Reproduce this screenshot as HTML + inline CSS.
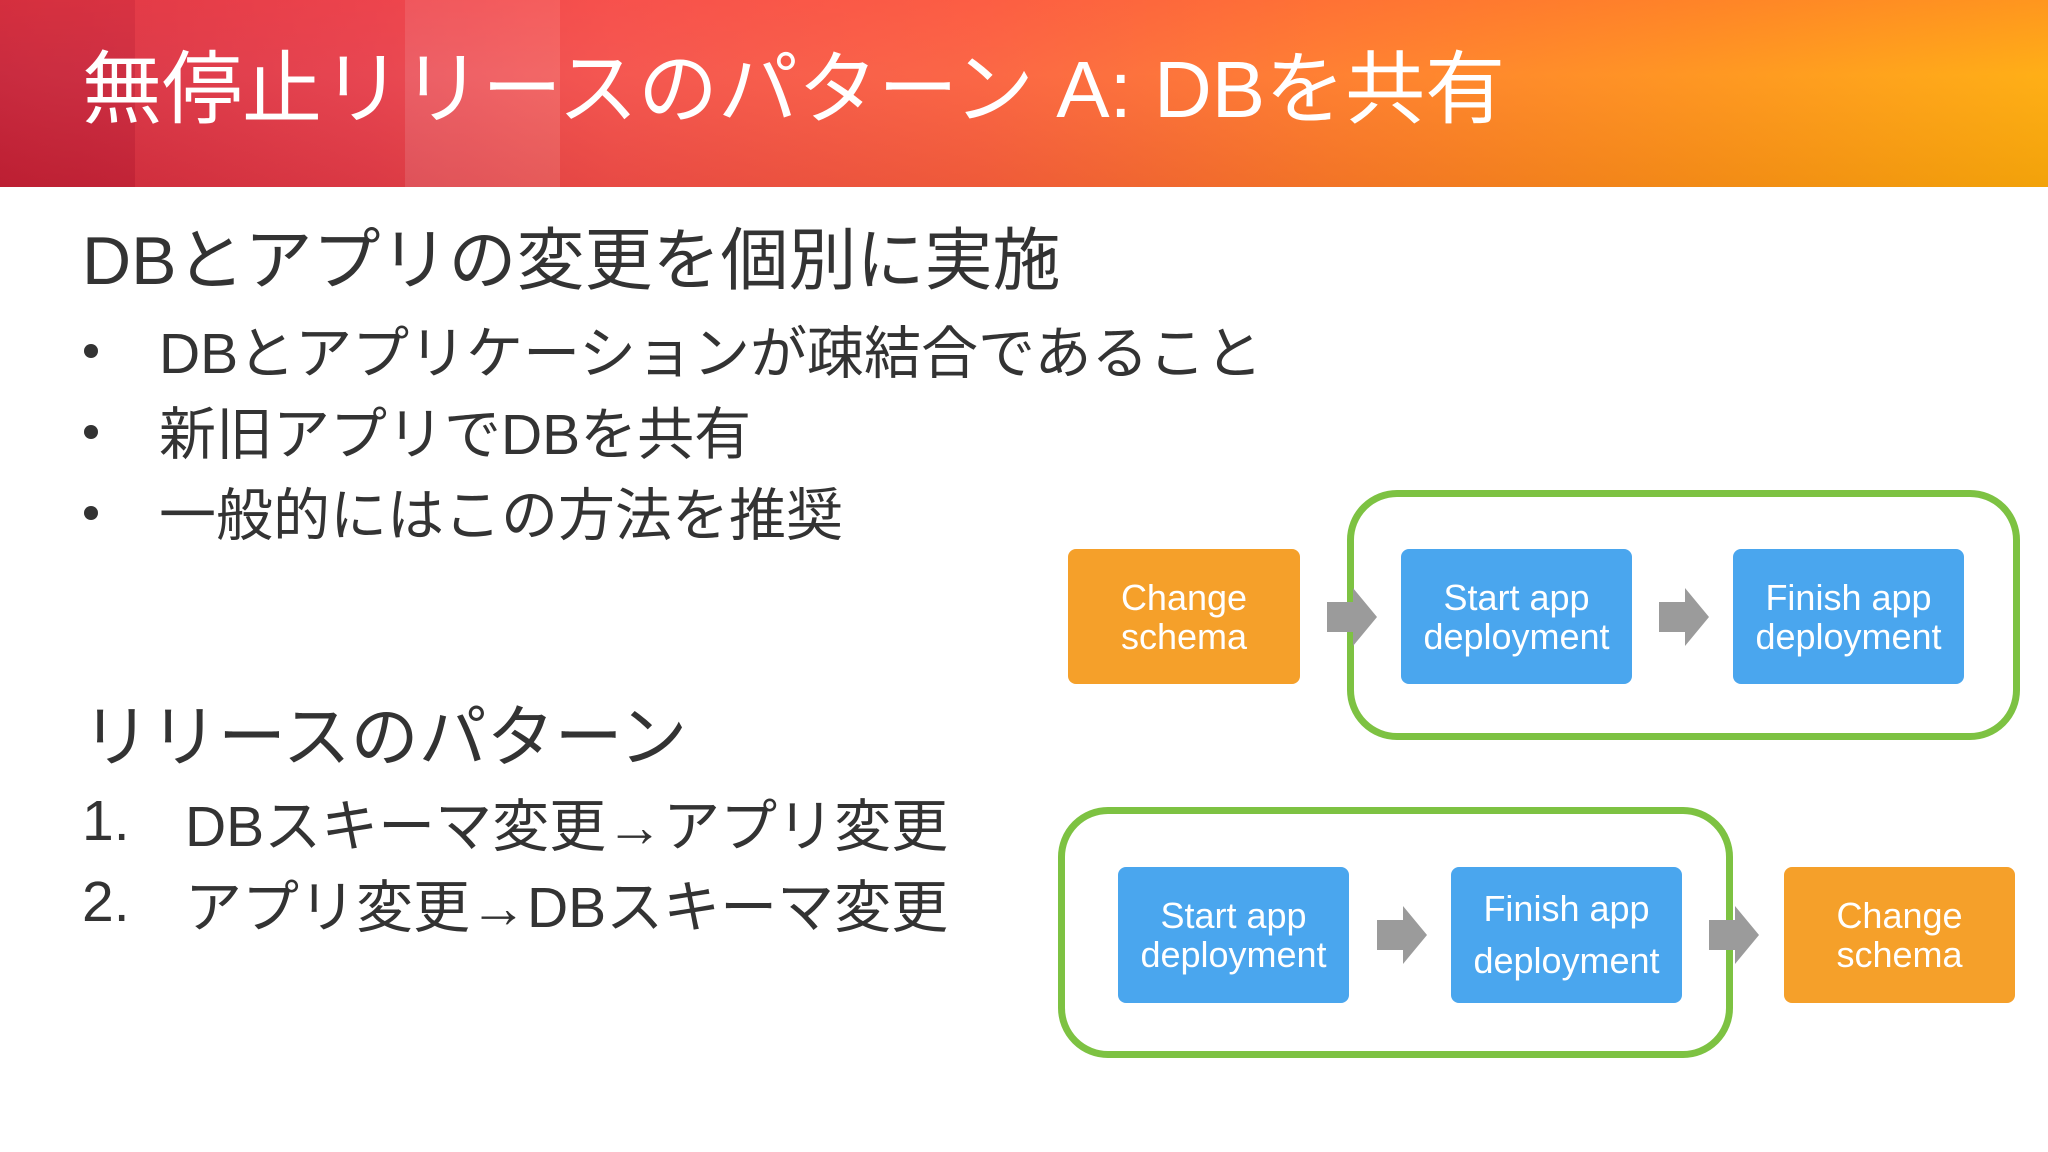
<!DOCTYPE html>
<html><head><meta charset="utf-8"><style>
*{margin:0;padding:0;box-sizing:border-box}
body{width:2048px;height:1152px;background:#fff;position:relative;overflow:hidden;font-family:"Liberation Sans","Noto Sans CJK JP",sans-serif;color:#333}
.hdr{position:absolute;left:0;top:0;width:2048px;height:187px;background:linear-gradient(90deg,#d42a3c 0%,#e63c48 18%,#f44e48 30%,#fb5f3c 48%,#ff7a28 65%,#ff9018 82%,#ffab0a 100%)}
.hdr .ov{position:absolute;left:0;top:0;width:100%;height:100%;background:linear-gradient(180deg,rgba(255,90,90,0.25) 0%,rgba(255,255,255,0.05) 40%,rgba(0,0,0,0.05) 100%)}
.s1{position:absolute;left:0;top:0;width:135px;height:187px;background:rgba(150,0,30,0.22)}
.s2{position:absolute;left:405px;top:0;width:155px;height:187px;background:rgba(255,255,255,0.12)}
.title{position:absolute;left:82px;top:40px;font-size:80px;color:#fff;white-space:nowrap;line-height:100px}
.t{position:absolute;white-space:nowrap;color:#333}
.h{font-size:68px;left:82px}
.b{font-size:57px;left:159px}
.dot{position:absolute;left:84px;width:14px;height:14px;border-radius:50%;background:#333}
.n{font-size:57px}
.box{position:absolute;border-radius:8px;color:#fff;font-size:36px;line-height:39px;text-align:center;display:flex;align-items:center;justify-content:center}
.o{background:#f5a02a}.bl{background:#4aa6ee}
.g{position:absolute;border:7px solid #7dc242;border-radius:50px}
</style></head><body>
<div class="hdr"><div class="s1"></div><div class="s2"></div><div class="ov"></div>
<div class="title">無停止リリースのパターン A: DBを共有</div></div>

<div class="t h" style="top:205px">DBとアプリの変更を個別に実施</div>
<div class="dot" style="top:344px"></div><div class="t b" style="top:308px">DBとアプリケーションが疎結合であること</div>
<div class="dot" style="top:425px"></div><div class="t b" style="top:389px">新旧アプリでDBを共有</div>
<div class="dot" style="top:506px"></div><div class="t b" style="top:470px">一般的にはこの方法を推奨</div>

<div class="t h" style="top:682px">リリースのパターン</div>
<div class="t n" style="left:82px;top:788px">1.</div><div class="t n" style="left:185px;top:781px">DBスキーマ変更→アプリ変更</div>
<div class="t n" style="left:82px;top:869px">2.</div><div class="t n" style="left:185px;top:862px">アプリ変更→DBスキーマ変更</div>

<div class="g" style="left:1347px;top:490px;width:673px;height:250px"></div>
<div class="g" style="left:1058px;top:807px;width:675px;height:251px"></div>

<div class="box o" style="left:1068px;top:549px;width:232px;height:135px">Change<br>schema</div>
<div class="box bl" style="left:1401px;top:549px;width:231px;height:135px">Start app<br>deployment</div>
<div class="box bl" style="left:1733px;top:549px;width:231px;height:135px">Finish app<br>deployment</div>

<div class="box bl" style="left:1118px;top:867px;width:231px;height:136px">Start app<br>deployment</div>
<div class="box bl" style="left:1451px;top:867px;width:231px;height:136px;line-height:52px">Finish app<br>deployment</div>
<div class="box o" style="left:1784px;top:867px;width:231px;height:136px">Change<br>schema</div>

<svg width="2048" height="1152" style="position:absolute;left:0;top:0">
<g fill="#9b9b9b">
<polygon points="1327,602 1353,602 1353,588 1377,617 1353,646 1353,632 1327,632"/>
<polygon points="1659,602 1685,602 1685,588 1709,617 1685,646 1685,632 1659,632"/>
<polygon points="1377,920 1403,920 1403,906 1427,935 1403,964 1403,950 1377,950"/>
<polygon points="1709,920 1735,920 1735,906 1759,935 1735,964 1735,950 1709,950"/>
</g></svg>
</body></html>
